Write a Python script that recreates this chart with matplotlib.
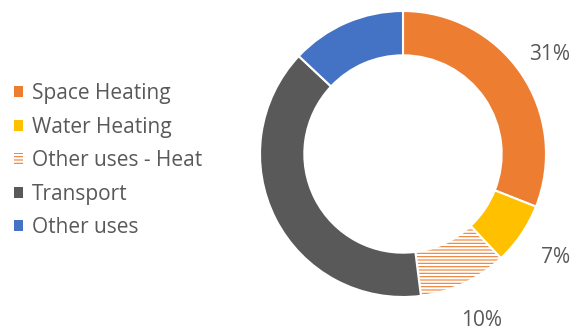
import matplotlib.pyplot as plt
from matplotlib.patches import Patch
import numpy as np

# Energy use shares
labels = ['Space Heating', 'Water Heating', 'Other uses - Heat', 'Transport', 'Other uses']
shares = [31, 7, 10, 39, 13]
pct_text = ['31%', '7%', '10%', '', '']
colors = ['#ED7D31', '#FFC000', '#ED7D31', '#595959', '#4472C4']
hatches = [None, None, '-----', None, None]

plt.rcParams['font.family'] = ['Open Sans', 'DejaVu Sans']
plt.rcParams['hatch.linewidth'] = 1.6

fig = plt.figure(figsize=(5.84, 3.31), dpi=100)
ax = fig.add_axes([0, 0, 1, 1])

wedges, _ = ax.pie(shares, colors=colors, startangle=90, counterclock=False,
                   radius=1.0, wedgeprops=dict(width=0.31, edgecolor='white', linewidth=1.5))
for w, h in zip(wedges, hatches):
    if h:
        w.set_hatch(h)

# percentage labels outside the ring
cum = np.cumsum([0] + shares[:-1])
total = sum(shares)
label_r = [1.24, 1.29, 1.29, 1.25, 1.25]
for start, s, txt, r in zip(cum, shares, pct_text, label_r):
    if not txt:
        continue
    ang = np.deg2rad(90 - 360 * (start + s / 2) / total)
    ax.text(r * np.cos(ang), r * np.sin(ang), txt, ha='center', va='center',
            fontsize=15, color='#595959')

# pixel-consistent limits: centre at (403, 154 from top), radius 143 px
R = 143
ax.set_xlim(-403 / R, (584 - 403) / R)
ax.set_ylim(-(331 - 154) / R, 154 / R)
ax.set_aspect('auto')
ax.axis('off')

handles = [Patch(facecolor=c, edgecolor='white', hatch=h, linewidth=0) for c, h in zip(colors, hatches)]
fig.legend(handles, labels, loc='center left', bbox_to_anchor=(14 / 584, 0.515), frameon=False,
           fontsize=15, labelcolor='#595959', handlelength=0.45, handleheight=0.45,
           handletextpad=0.4, labelspacing=0.6, borderpad=0, borderaxespad=0)

fig.savefig('out.png', dpi=100)
